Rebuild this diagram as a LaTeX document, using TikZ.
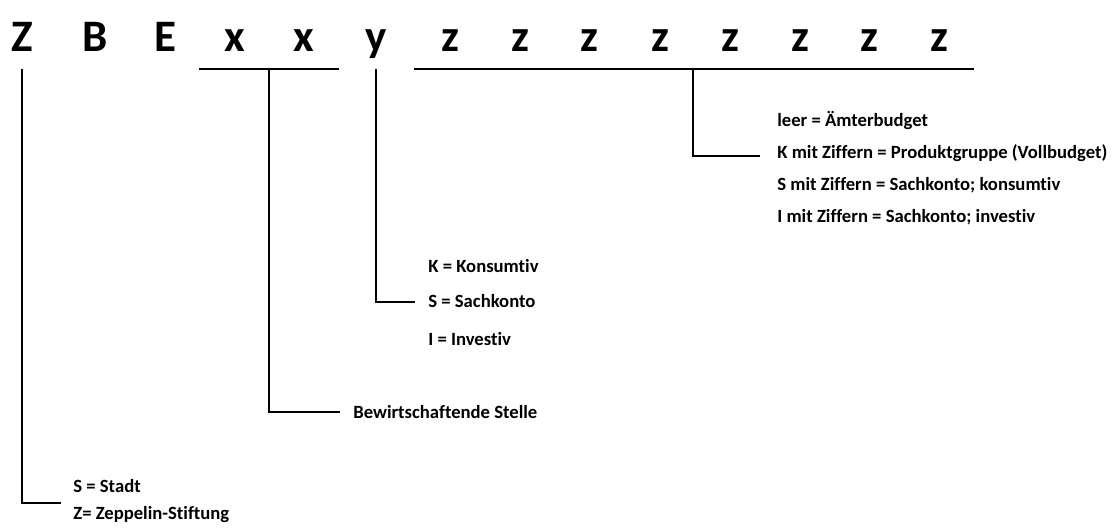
\documentclass[tikz,border=0pt]{standalone}
\usepackage{fontspec}
\setmainfont[Ligatures=NoCommon]{Carlito}
\usetikzlibrary{calc}

\tikzset{
    code/.style={font=\fontsize{27}{27}\selectfont\bfseries, inner sep=0pt, anchor=base},
    key/.style={font=\fontsize{11.2}{13}\selectfont\bfseries, inner sep=0pt, anchor=base west},
    bar/.style={line width=1.2pt},
    lead/.style={line width=0.9pt}
}

\begin{document}
\begin{tikzpicture}[x=0.6pt,y=-0.6pt]
        \useasboundingbox (0,0) rectangle (1120,531);

        % letters of the code
        \node[code] (Z) at (22,52) {Z};
        \node[code] (B) at (95,52) {B};
        \node[code] (E) at (165,52) {E};
        \node[code] (X1) at (235,52) {x};
        \node[code] (X2) at (304,52) {x};
        \node[code] (Y) at (376,52) {y};
        \node[code] (Z1) at (450,52) {z};
        \node[code] (Z2) at (520,52) {z};
        \node[code] (Z3) at (589,52) {z};
        \node[code] (Z4) at (660,52) {z};
        \node[code] (Z5) at (730,52) {z};
        \node[code] (Z6) at (800,52) {z};
        \node[code] (Z7) at (869,52) {z};
        \node[code] (Z8) at (939,52) {z};

        % underlines
        \coordinate (XA) at (199,69);
        \coordinate (XB) at (339,69);
        \coordinate (ZA) at (414,69);
        \coordinate (ZB) at (974,69);
        \draw[bar] (XA) -- (XB);
        \draw[bar] (ZA) -- (ZB);

        % explanations
        \node[key] (stadt) at (73,493) {S = Stadt};
        \node[key] (zeppelin) at (73,520) {Z= Zeppelin-Stiftung};
        \node[key] (stelle) at (353,419) {Bewirtschaftende Stelle};
        \node[key] (konsum) at (428,273) {K = Konsumtiv};
        \node[key] (sach) at (428,308) {S = Sachkonto};
        \node[key] (invest) at (428,346) {I = Investiv};
        \node[key] (leer) at (777,127) {leer = Ämterbudget};
        \node[key] (kziff) at (777,159) {K mit Ziffern = Produktgruppe (Vollbudget)};
        \node[key] (sziff) at (777,191) {S mit Ziffern = Sachkonto; konsumtiv};
        \node[key] (iziff) at (777,223) {I mit Ziffern = Sachkonto; investiv};

        % leaders
        \coordinate (ZT) at (22,69);
        \coordinate (ZE) at (61,503);
        \coordinate (XT) at (269,69);
        \coordinate (XE) at (340,412);
        \coordinate (YT) at (376,69);
        \coordinate (YE) at (415,302);
        \coordinate (ZZT) at (693,69);
        \coordinate (ZZE) at (760,156);

        \draw[lead] (ZT) |- (ZE);
        \draw[lead] (XT) |- (XE);
        \draw[lead] (YT) |- (YE);
        \draw[lead] (ZZT) |- (ZZE);
    \end{tikzpicture}
\end{document}
